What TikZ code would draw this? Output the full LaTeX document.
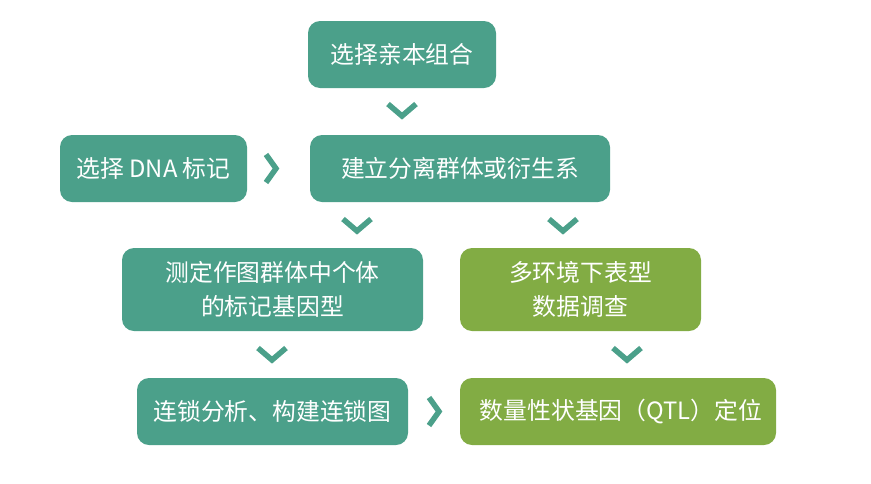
\documentclass[tikz,border=0pt]{standalone}
\usepackage{fontspec}
\setmainfont{Noto Sans CJK SC}
\usepackage{xcolor}
\usetikzlibrary{positioning,calc}
\definecolor{sea}{HTML}{4BA08A}
\definecolor{leaf}{HTML}{82AC44}

\begin{document}
\begin{tikzpicture}[x=1pt,y=-1pt]
  \tikzstyle{box}=[rounded corners=12pt, text=white, inner sep=0pt, font=\fontsize{23.8}{34}\selectfont, align=center]
  \tikzstyle{tbox}=[fill=sea]
  \tikzstyle{gbox}=[fill=leaf]
  \tikzstyle{chev}=[draw=sea, line width=5.5pt, line join=miter]

  \useasboundingbox (0,0) rectangle (871,483);

  % Kästen
  \node[box, tbox, minimum width=188pt, minimum height=67pt] (parents) at (402,54.5) {选择亲本组合};
  \node[box, tbox, minimum width=187pt, minimum height=67pt] (marker) at (153.5,168.5) {选择 DNA 标记};
  \node[box, tbox, minimum width=300pt, minimum height=67pt] (population) at (460,168.5) {建立分离群体或衍生系};
  \node[box, tbox, minimum width=301pt, minimum height=83pt] (genotype) at (272.5,289.5) {测定作图群体中个体\\的标记基因型};
  \node[box, gbox, minimum width=241pt, minimum height=83pt] (phenotype) at (580.5,289.5) {多环境下表型\\数据调查};
  \node[box, tbox, minimum width=271pt, minimum height=67pt] (linkage) at (272.5,411.5) {连锁分析、构建连锁图};
  \node[box, gbox, minimum width=316pt, minimum height=67pt] (qtl) at (618,411.5) {\hspace{6pt}数量性状基因（QTL）定位};

  % Pfeile
  \coordinate (c1) at (402,110);
  \coordinate (c2) at (357,225);
  \coordinate (c3) at (563,225);
  \coordinate (c4) at (272,354);
  \coordinate (c5) at (627,354);
  \foreach \c in {c1,c2,c3,c4,c5}
    \draw[chev] ($(\c)+(-14,-6)$) -- ($(\c)+(0,6)$) -- ($(\c)+(14,-6)$);
  \coordinate (r1) at ($(marker.east)!0.38!(population.west)$);
  \coordinate (r2) at ($(linkage.east)!0.5!(qtl.west)$);
  \foreach \c in {r1,r2}
    \draw[chev] ($(\c)+(-5,-14)$) -- ($(\c)+(5,0)$) -- ($(\c)+(-5,14)$);
\end{tikzpicture}
\end{document}
